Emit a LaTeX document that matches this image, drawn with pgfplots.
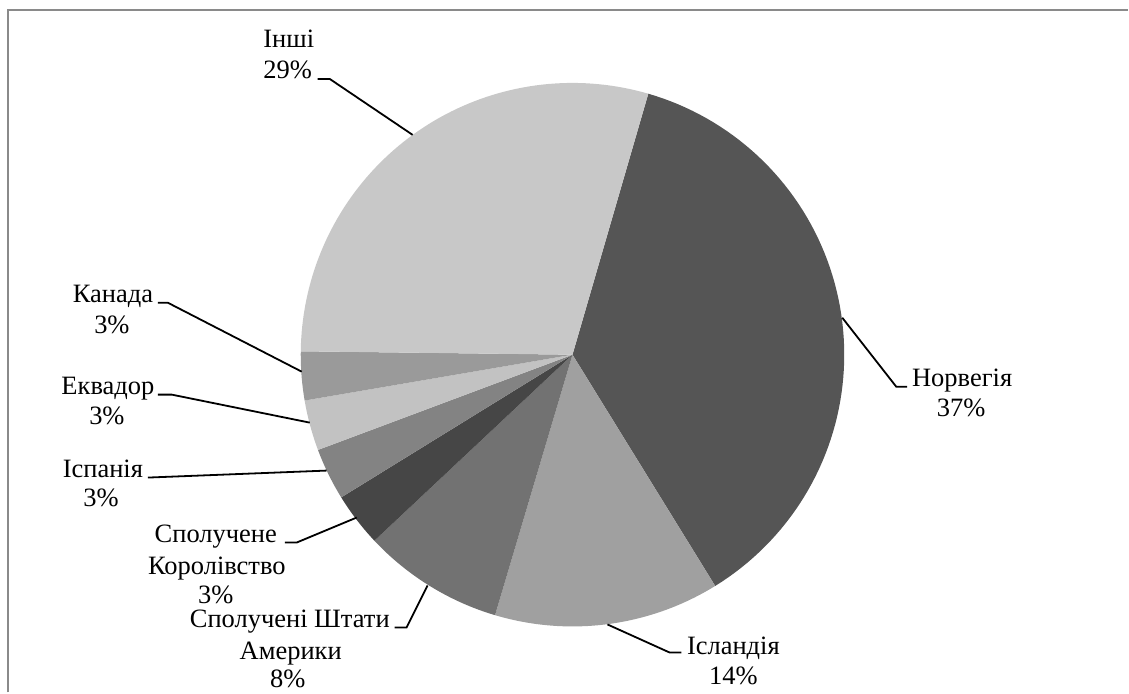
\documentclass[border=0pt]{standalone}
\usepackage{pgfplots}
\usepackage{pgfplotstable}
\pgfplotsset{compat=1.18}
\usepackage{fontspec}
\setmainfont{Liberation Serif}

% slice colours, in table order
\definecolor{slice0}{HTML}{555555}
\definecolor{slice1}{HTML}{A0A0A0}
\definecolor{slice2}{HTML}{727272}
\definecolor{slice3}{HTML}{464646}
\definecolor{slice4}{HTML}{838383}
\definecolor{slice5}{HTML}{C2C2C2}
\definecolor{slice6}{HTML}{9A9A9A}
\definecolor{slice7}{HTML}{C8C8C8}
\definecolor{frame}{HTML}{8A8A8A}

% shares in percent, clockwise from the first slice
\pgfplotstableread{
name value
Norway 36.7
Iceland 13.4
USA 8.4
UK 3.2
Spain 3.1
Ecuador 3.0
Canada 2.9
Others 29.3
}\piedata
\pgfplotstablecreatecol[create col/expr accum={\pgfmathaccuma + \thisrow{value}}{0}]{cum}\piedata

\def\cx{573}
\def\cy{355}
\def\rr{272}
\def\firstangle{16.2}

\begin{document}
\begin{tikzpicture}[lbl/.style={anchor=base, inner sep=0pt, font=\fontsize{13.25}{15}\selectfont}]
\begin{axis}[
  width=564.5pt, height=346.5pt, scale only axis,
  xmin=0, xmax=1129, ymin=0, ymax=693, y dir=reverse,
  hide axis, clip=false,
]
\path (axis cs:0,0) rectangle (axis cs:1129,693);

\pgfplotsinvokeforeach{0,...,7}{
  \pgfplotstablegetelem{#1}{cum}\of\piedata
  \pgfmathsetmacro\e{\firstangle+3.6*\pgfplotsretval}
  \pgfplotstablegetelem{#1}{value}\of\piedata
  \pgfmathsetmacro\s{\e-3.6*\pgfplotsretval}
  \edef\doslice{\noexpand\addplot[fill=slice#1, draw=none, domain=\s:\e, samples=80]
    ({\cx+\rr*sin(x)},{\cy-\rr*cos(x)}) -- (axis cs:\cx,\cy) -- cycle;}
  \doslice
}

% frame
\draw[frame, line width=1pt] (axis cs:8.5,693) -- (axis cs:8.5,10) -- (axis cs:1129,10);

% leader lines
\begin{scope}[black, line width=0.9pt]
\draw (axis cs:318,79) -- (axis cs:330,79) -- (axis cs:413,135);
\draw (axis cs:158,303) -- (axis cs:168,303) -- (axis cs:302,372);
\draw (axis cs:158,395) -- (axis cs:172,395) -- (axis cs:310,423);
\draw (axis cs:148,478) -- (axis cs:327,471);
\draw (axis cs:285,543) -- (axis cs:297,543) -- (axis cs:357,518);
\draw (axis cs:395,628) -- (axis cs:407,628) -- (axis cs:428,586);
\draw (axis cs:682,653) -- (axis cs:670,653) -- (axis cs:608,625);
\draw (axis cs:908,387) -- (axis cs:897,387) -- (axis cs:843,318);
\end{scope}

% labels
\node[lbl] at (axis cs:289,48) {Інші};
\node[lbl] at (axis cs:288,79) {29\%};
\node[lbl] at (axis cs:113,303) {Канада};
\node[lbl] at (axis cs:112,334) {3\%};
\node[lbl] at (axis cs:108,395) {Еквадор};
\node[lbl] at (axis cs:107,425) {3\%};
\node[lbl] at (axis cs:103,478) {Іспанія};
\node[lbl] at (axis cs:101,507) {3\%};
\node[lbl] at (axis cs:216,543) {Сполучене};
\node[lbl] at (axis cs:217,575) {Королівство};
\node[lbl] at (axis cs:216,604) {3\%};
\node[lbl] at (axis cs:290,628) {Сполучені Штати};
\node[lbl] at (axis cs:291,660) {Америки};
\node[lbl] at (axis cs:288,688) {8\%};
\node[lbl] at (axis cs:734,655) {Ісландія};
\node[lbl] at (axis cs:734,685) {14\%};
\node[lbl] at (axis cs:963,387) {Норвегія};
\node[lbl] at (axis cs:962,417) {37\%};
\end{axis}
\end{tikzpicture}
\end{document}
